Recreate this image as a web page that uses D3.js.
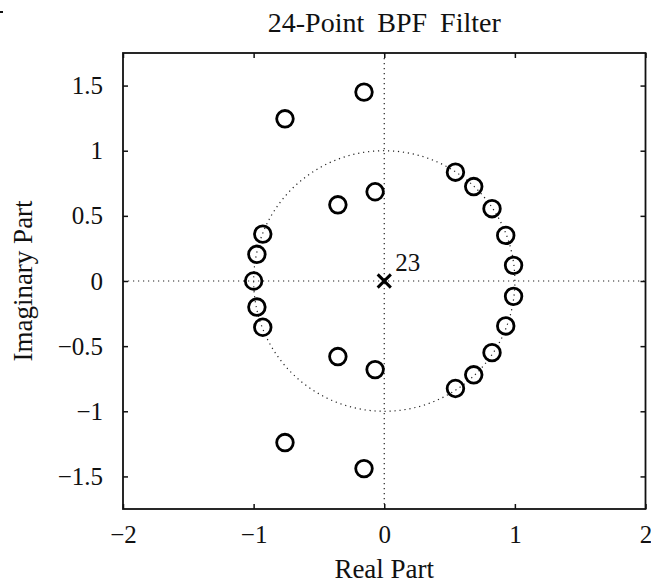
<!DOCTYPE html>
<html>
<head>
<meta charset="utf-8">
<script src="https://cdn.jsdelivr.net/npm/d3@7"></script>
<style>
  body { margin: 0; background: #fff; }
  text { font-family: "Liberation Serif", "DejaVu Serif", serif; fill: #111; }
</style>
</head>
<body>
<svg id="chart" width="651" height="586"></svg>
<script>
// zeros of the filter (real, imaginary)
const zerosRe = [-0.155, -0.76, -0.07, -0.355, 0.545, 0.685, 0.825, 0.93, 0.99, -0.93, -0.975, -1.0,
                 -0.975, -0.93, 0.99, 0.93, 0.825, 0.685, 0.545, -0.355, -0.07, -0.76, -0.155];
const zerosIm = [1.45, 1.245, 0.685, 0.585, 0.835, 0.725, 0.555, 0.35, 0.12, 0.36, 0.205, 0,
                 -0.2, -0.355, -0.118, -0.345, -0.55, -0.72, -0.825, -0.58, -0.68, -1.24, -1.44];
// pole at origin and its multiplicity
const polesRe = [0];
const polesIm = [0];
const poleOrder = "23";

const xTicks = [-2, -1, 0, 1, 2];
const yTicks = [-1.5, -1, -0.5, 0, 0.5, 1, 1.5];

const W = 651, H = 586;
const MARGIN = { top: 53, right: 5.5, bottom: 77, left: 123 };
const width = W - MARGIN.left - MARGIN.right;
const height = H - MARGIN.top - MARGIN.bottom;

const x = d3.scaleLinear().domain([-2, 2]).range([0, width]);
const y = d3.scaleLinear().domain([-1.75, 1.75]).range([height, 0]);

const svg = d3.select('#chart');

// small scan artefact in the corner
svg.append('rect').attr('x', 0).attr('y', 11).attr('width', 3).attr('height', 2).attr('fill', '#111');

const g = svg.append('g')
  .attr('transform', 'translate(' + MARGIN.left + ',' + MARGIN.top + ')');

// dotted guide lines through origin
const dots = { stroke: '#222', 'stroke-width': 1.2, 'stroke-dasharray': '1.2,3.8', fill: 'none' };
function applyDots(sel) {
  Object.keys(dots).forEach(k => sel.attr(k, dots[k]));
  return sel;
}
applyDots(g.append('line')
  .attr('x1', 0).attr('x2', width).attr('y1', y(0)).attr('y2', y(0)));
applyDots(g.append('line')
  .attr('x1', x(0)).attr('x2', x(0)).attr('y1', 0).attr('y2', height));

// unit circle
const circlePts = d3.range(0, 361, 2).map(a => [Math.cos(a * Math.PI / 180), Math.sin(a * Math.PI / 180)]);
applyDots(g.append('path')
  .datum(circlePts)
  .attr('d', d3.line().x(d => x(d[0])).y(d => y(d[1]))));

// axes, ticks pointing inward
function styleAxis(sel) {
  sel.select('.domain').remove();
  sel.selectAll('.tick line').attr('stroke', '#111').attr('stroke-width', 1.5);
  sel.selectAll('.tick text')
    .style('font-family', '"Liberation Serif", serif')
    .style('font-size', '25px')
    .attr('fill', '#111');
}
g.append('g')
  .attr('transform', 'translate(0,' + height + ')')
  .call(d3.axisBottom(x).tickValues(xTicks).tickSizeInner(-5).tickSizeOuter(0).tickPadding(16)
    .tickFormat(d3.format('d')))
  .call(styleAxis);
g.append('g')
  .call(d3.axisTop(x).tickValues(xTicks).tickSizeInner(-5).tickSizeOuter(0).tickFormat(''))
  .call(styleAxis);
g.append('g')
  .call(d3.axisLeft(y).tickValues(yTicks).tickSizeInner(-5).tickSizeOuter(0).tickPadding(20)
    .tickFormat(d3.format('')))
  .call(styleAxis);
g.append('g')
  .attr('transform', 'translate(' + width + ',0)')
  .call(d3.axisRight(y).tickValues(yTicks).tickSizeInner(-5).tickSizeOuter(0).tickFormat(''))
  .call(styleAxis);

// frame
g.append('rect')
  .attr('width', width).attr('height', height)
  .attr('fill', 'none').attr('stroke', '#111').attr('stroke-width', 1.8);

// zeros
g.selectAll('circle.zero')
  .data(d3.range(zerosRe.length))
  .enter()
  .append('circle')
  .attr('class', 'zero')
  .attr('cx', i => x(zerosRe[i]))
  .attr('cy', i => y(zerosIm[i]))
  .attr('r', 8.3)
  .attr('fill', 'none')
  .attr('stroke', '#000')
  .attr('stroke-width', 2.8);

// poles
const cross = d3.symbol().type(d3.symbolX).size(115);
g.selectAll('path.pole')
  .data(d3.range(polesRe.length))
  .enter()
  .append('path')
  .attr('class', 'pole')
  .attr('transform', i => 'translate(' + x(polesRe[i]) + ',' + y(polesIm[i]) + ')')
  .attr('d', cross)
  .attr('fill', 'none')
  .attr('stroke', '#000')
  .attr('stroke-width', 3);

g.selectAll('text.order')
  .data(d3.range(polesRe.length))
  .enter()
  .append('text')
  .attr('class', 'order')
  .attr('x', i => x(polesRe[i]) + 11)
  .attr('y', i => y(polesIm[i]) - 10)
  .style('font-size', '25px')
  .text(poleOrder);

// labels
svg.append('text')
  .attr('x', MARGIN.left + width / 2)
  .attr('y', 32)
  .attr('text-anchor', 'middle')
  .style('font-size', '28px')
  .style('word-spacing', '6px')
  .text('24-Point BPF Filter');

svg.append('text')
  .attr('x', MARGIN.left + width / 2)
  .attr('y', 578)
  .attr('text-anchor', 'middle')
  .style('font-size', '27px')
  .text('Real Part');

svg.append('text')
  .attr('transform', 'translate(32,' + (MARGIN.top + height / 2) + ') rotate(-90)')
  .attr('text-anchor', 'middle')
  .style('font-size', '27px')
  .text('Imaginary Part');
</script>
</body>
</html>
